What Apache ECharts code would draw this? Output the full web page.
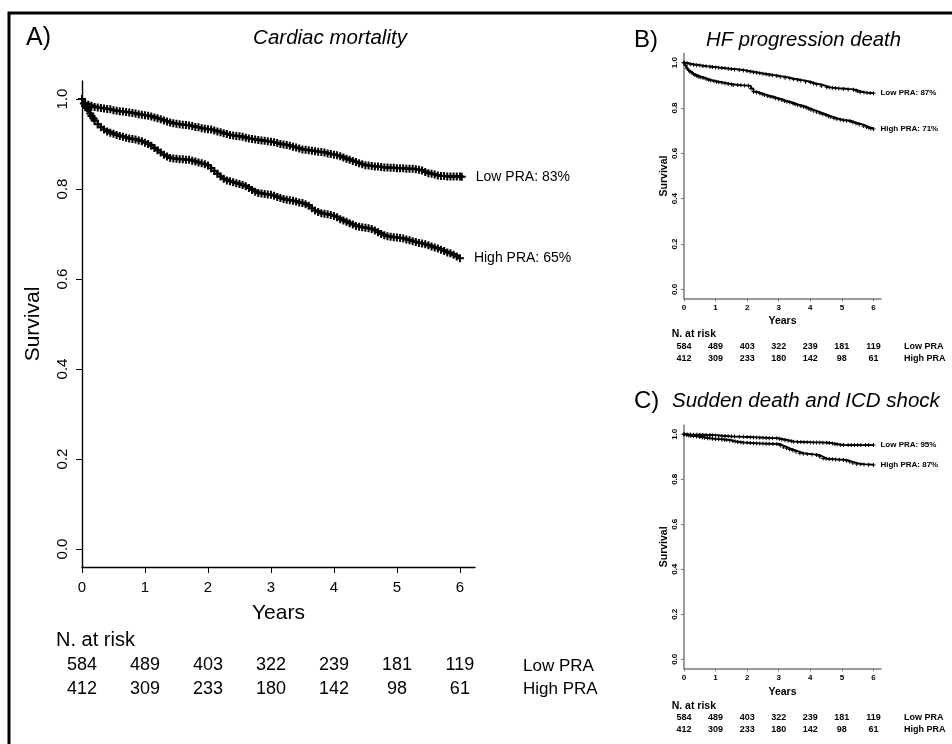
<!DOCTYPE html>
<html><head><meta charset="utf-8">
<script src="https://cdn.jsdelivr.net/npm/echarts@6/dist/echarts.min.js"></script>
<style>html,body{margin:0;padding:0;background:#fff}#c{width:952px;height:744px}</style>
</head><body><div id="c"></div><script>
// ---------- data ----------
const yearTicks = [0, 1, 2, 3, 4, 5, 6];
const survTicks = [0, 0.2, 0.4, 0.6, 0.8, 1.0];
const riskLow  = [584, 489, 403, 322, 239, 181, 119];
const riskHigh = [412, 309, 233, 180, 142, 98, 61];
const panelLetters = ['A)', 'B)', 'C)'];
const panelTitles = ['Cardiac mortality', 'HF progression death', 'Sudden death and ICD shock'];
const lowEndLabels  = ['Low PRA: 83%', 'Low PRA: 87%', 'Low PRA: 95%'];
const highEndLabels = ['High PRA: 65%', 'High PRA: 71%', 'High PRA: 87%'];
const rowNames = ['Low PRA', 'High PRA'];

// Panel A – cardiac mortality  [years, survival]
const aLow = [[0,1],[0.05,0.99],[0.1,0.987],[0.15,0.985],[0.2,0.982],[0.25,0.981],[0.3,0.98],[0.35,0.979],[0.4,0.978],[0.45,0.977],[0.5,0.975],[0.55,0.974],[0.6,0.973],[0.65,0.972],[0.7,0.971],[0.75,0.97],[0.8,0.969],[0.85,0.968],[0.9,0.966],[0.95,0.965],[1.0,0.964],[1.05,0.963],[1.1,0.961],[1.15,0.959],[1.2,0.957],[1.25,0.955],[1.3,0.952],[1.35,0.95],[1.4,0.948],[1.45,0.946],[1.5,0.945],[1.55,0.944],[1.6,0.943],[1.65,0.942],[1.7,0.941],[1.75,0.94],[1.8,0.938],[1.85,0.937],[1.9,0.935],[1.95,0.934],[2.0,0.933],[2.05,0.932],[2.1,0.93],[2.15,0.928],[2.2,0.926],[2.25,0.924],[2.3,0.922],[2.35,0.92],[2.4,0.919],[2.45,0.918],[2.5,0.917],[2.55,0.916],[2.6,0.914],[2.65,0.912],[2.7,0.911],[2.75,0.91],[2.8,0.909],[2.85,0.908],[2.9,0.907],[2.95,0.906],[3.0,0.905],[3.05,0.904],[3.1,0.902],[3.15,0.9],[3.2,0.899],[3.25,0.898],[3.3,0.896],[3.35,0.894],[3.4,0.892],[3.45,0.89],[3.5,0.888],[3.55,0.887],[3.6,0.886],[3.65,0.885],[3.7,0.884],[3.75,0.883],[3.8,0.882],[3.85,0.881],[3.9,0.879],[3.95,0.878],[4.0,0.876],[4.05,0.875],[4.1,0.873],[4.15,0.87],[4.2,0.867],[4.25,0.865],[4.3,0.862],[4.35,0.86],[4.4,0.857],[4.45,0.855],[4.5,0.853],[4.55,0.852],[4.6,0.851],[4.65,0.85],[4.7,0.85],[4.75,0.849],[4.8,0.848],[4.85,0.848],[4.9,0.847],[4.95,0.847],[5.0,0.846],[5.05,0.846],[5.1,0.846],[5.15,0.845],[5.2,0.845],[5.25,0.845],[5.3,0.844],[5.35,0.843],[5.4,0.841],[5.45,0.838],[5.5,0.835],[5.55,0.834],[5.6,0.832],[5.65,0.83],[5.7,0.829],[5.75,0.829],[5.8,0.828],[5.85,0.828],[5.9,0.828],[5.95,0.828],[6.0,0.828],[6.03,0.827]];
const aHigh = [[0,1],[0.03,0.99],[0.05,0.985],[0.08,0.98],[0.1,0.975],[0.13,0.968],[0.15,0.962],[0.18,0.957],[0.2,0.952],[0.25,0.944],[0.3,0.937],[0.35,0.932],[0.4,0.928],[0.45,0.925],[0.5,0.923],[0.55,0.92],[0.6,0.918],[0.65,0.916],[0.7,0.914],[0.75,0.912],[0.8,0.911],[0.85,0.91],[0.9,0.908],[0.95,0.906],[1.0,0.903],[1.05,0.9],[1.1,0.896],[1.15,0.891],[1.2,0.886],[1.25,0.881],[1.3,0.876],[1.35,0.872],[1.4,0.869],[1.45,0.868],[1.5,0.867],[1.55,0.866],[1.6,0.866],[1.65,0.865],[1.7,0.865],[1.75,0.863],[1.8,0.861],[1.85,0.859],[1.9,0.857],[1.95,0.855],[2.0,0.852],[2.05,0.846],[2.1,0.84],[2.15,0.834],[2.2,0.828],[2.25,0.823],[2.3,0.819],[2.35,0.817],[2.4,0.815],[2.45,0.813],[2.5,0.811],[2.55,0.809],[2.6,0.806],[2.65,0.802],[2.7,0.798],[2.75,0.794],[2.8,0.791],[2.85,0.79],[2.9,0.789],[2.95,0.788],[3.0,0.787],[3.05,0.785],[3.1,0.782],[3.15,0.78],[3.2,0.778],[3.25,0.776],[3.3,0.775],[3.35,0.774],[3.4,0.772],[3.45,0.77],[3.5,0.769],[3.55,0.766],[3.6,0.763],[3.65,0.757],[3.7,0.752],[3.75,0.749],[3.8,0.746],[3.85,0.745],[3.9,0.744],[3.95,0.742],[4.0,0.74],[4.05,0.737],[4.1,0.733],[4.15,0.73],[4.2,0.727],[4.25,0.724],[4.3,0.721],[4.35,0.718],[4.4,0.716],[4.45,0.715],[4.5,0.714],[4.55,0.713],[4.6,0.711],[4.65,0.708],[4.7,0.704],[4.75,0.7],[4.8,0.697],[4.85,0.695],[4.9,0.694],[4.95,0.693],[5.0,0.692],[5.05,0.691],[5.1,0.69],[5.15,0.688],[5.2,0.686],[5.25,0.684],[5.3,0.682],[5.35,0.68],[5.4,0.679],[5.45,0.677],[5.5,0.675],[5.55,0.672],[5.6,0.67],[5.65,0.668],[5.7,0.665],[5.75,0.662],[5.8,0.659],[5.85,0.657],[5.9,0.654],[5.95,0.65],[6.0,0.646]];

// Panel B – HF progression death
const bLow = [[0,1],[0.1,0.996],[0.2,0.993],[0.3,0.991],[0.4,0.989],[0.5,0.987],[0.6,0.985],[0.7,0.984],[0.82,0.982],[0.9,0.981],[1.0,0.979],[1.1,0.978],[1.2,0.976],[1.3,0.975],[1.4,0.973],[1.5,0.972],[1.6,0.97],[1.75,0.968],[1.88,0.965],[2.0,0.963],[2.1,0.96],[2.2,0.958],[2.3,0.955],[2.4,0.953],[2.5,0.951],[2.6,0.949],[2.7,0.946],[2.8,0.944],[2.94,0.941],[3.05,0.938],[3.2,0.934],[3.35,0.93],[3.47,0.927],[3.6,0.924],[3.7,0.921],[3.85,0.916],[4.0,0.912],[4.1,0.908],[4.2,0.904],[4.35,0.897],[4.52,0.892],[4.6,0.89],[4.7,0.889],[4.8,0.887],[4.9,0.886],[5.05,0.884],[5.2,0.882],[5.37,0.88],[5.45,0.877],[5.5,0.874],[5.58,0.87],[5.7,0.868],[5.8,0.867],[5.9,0.866],[6.0,0.865]];
const bHigh = [[0,1],[0.05,0.988],[0.1,0.975],[0.15,0.966],[0.19,0.96],[0.25,0.955],[0.3,0.95],[0.35,0.946],[0.4,0.942],[0.45,0.939],[0.51,0.936],[0.6,0.932],[0.7,0.928],[0.78,0.924],[0.85,0.921],[0.95,0.918],[1.03,0.916],[1.1,0.914],[1.2,0.911],[1.3,0.909],[1.4,0.906],[1.5,0.904],[1.56,0.902],[1.7,0.901],[1.8,0.9],[1.92,0.899],[2.04,0.898],[2.12,0.886],[2.2,0.872],[2.3,0.868],[2.4,0.865],[2.48,0.861],[2.55,0.857],[2.65,0.853],[2.73,0.85],[2.82,0.847],[2.9,0.843],[3.0,0.839],[3.1,0.835],[3.18,0.831],[3.26,0.828],[3.35,0.824],[3.45,0.82],[3.52,0.816],[3.6,0.813],[3.7,0.809],[3.78,0.806],[3.87,0.801],[3.95,0.797],[4.02,0.792],[4.1,0.788],[4.2,0.782],[4.31,0.777],[4.4,0.772],[4.5,0.768],[4.58,0.764],[4.65,0.76],[4.75,0.755],[4.84,0.751],[4.95,0.748],[5.05,0.746],[5.15,0.744],[5.26,0.741],[5.35,0.736],[5.45,0.732],[5.55,0.727],[5.68,0.721],[5.78,0.716],[5.85,0.713],[5.92,0.71],[6.0,0.707]];

// Panel C – sudden death and ICD shock
const cLow = [[0,1],[0.1,0.999],[0.2,0.999],[0.3,0.998],[0.4,0.998],[0.5,0.998],[0.6,0.997],[0.7,0.997],[0.82,0.997],[0.9,0.996],[1.0,0.995],[1.1,0.994],[1.2,0.993],[1.3,0.992],[1.4,0.991],[1.5,0.99],[1.6,0.99],[1.75,0.989],[1.88,0.989],[2.0,0.988],[2.1,0.987],[2.2,0.986],[2.3,0.986],[2.4,0.985],[2.5,0.985],[2.6,0.984],[2.7,0.983],[2.8,0.983],[2.94,0.982],[3.02,0.98],[3.1,0.977],[3.2,0.974],[3.3,0.971],[3.4,0.969],[3.47,0.967],[3.6,0.966],[3.7,0.966],[3.8,0.965],[3.9,0.965],[4.0,0.964],[4.1,0.964],[4.2,0.964],[4.3,0.964],[4.4,0.963],[4.52,0.963],[4.6,0.961],[4.7,0.959],[4.78,0.957],[4.85,0.955],[4.95,0.953],[5.05,0.952],[5.2,0.952],[5.3,0.952],[5.4,0.952],[5.5,0.952],[5.6,0.952],[5.75,0.952],[5.85,0.952],[6.0,0.952]];
const cHigh = [[0,1],[0.08,0.997],[0.15,0.995],[0.22,0.993],[0.3,0.992],[0.4,0.99],[0.5,0.988],[0.58,0.986],[0.65,0.985],[0.75,0.983],[0.82,0.982],[0.9,0.98],[1.0,0.979],[1.1,0.978],[1.2,0.977],[1.28,0.976],[1.35,0.975],[1.45,0.972],[1.55,0.97],[1.62,0.968],[1.7,0.966],[1.8,0.964],[1.88,0.963],[2.0,0.962],[2.1,0.961],[2.2,0.96],[2.3,0.96],[2.4,0.959],[2.5,0.959],[2.6,0.958],[2.7,0.958],[2.82,0.957],[2.94,0.957],[3.05,0.95],[3.15,0.944],[3.25,0.938],[3.35,0.933],[3.45,0.928],[3.55,0.922],[3.67,0.916],[3.78,0.914],[3.9,0.912],[4.05,0.91],[4.2,0.908],[4.3,0.9],[4.41,0.893],[4.5,0.891],[4.6,0.89],[4.7,0.889],[4.8,0.888],[4.92,0.887],[5.05,0.886],[5.15,0.882],[5.25,0.878],[5.35,0.873],[5.47,0.868],[5.6,0.867],[5.7,0.866],[5.85,0.865],[6.0,0.864]];

const seriesData = [[aLow, aHigh], [bLow, bHigh], [cLow, cHigh]];

// ---------- layout / style ----------
const FONT = '"Liberation Sans", Arial, Helvetica, sans-serif';
const grids = [
  {left: 82, top: 81, width: 393, height: 486},
  {left: 684, top: 53.6, width: 197, height: 244.8},
  {left: 684, top: 425.3, width: 197, height: 243}
];
const big = {axisColor: '#000', axisW: 1.4, tickLen: 6, tickFont: 15, tickW: 'normal', xMargin: 13, yMargin: 11.5,
  nameFont: 21, nameW: 'normal', yNameGap: 38.5, rowFont: 18, rowW: 'normal', endFont: 14, endW: 'normal', endDist: 14,
  lineW: 2, sym: 'path://M3,0H5V3H8V5H5V8H3V5H0V3H3Z', symSize: 8};
const small = {axisColor: '#7a7a7a', axisW: 1.5, tickLen: 3, tickFont: 8, tickW: 'bold', xMargin: 5.5, yMargin: 5,
  nameFont: 10.5, nameW: 'bold', yNameGap: 11, rowFont: 9, rowW: 'bold', endFont: 8, endW: 'bold', endDist: 7,
  lineW: 1.8, sym: 'path://M3,0H5V3H8V5H5V8H3V5H0V3H3Z', symSize: 4};
const panelCfg = [
  Object.assign({}, big, {xNameGap: 36, rowOffsets: [88.6, 112.6]}),
  Object.assign({}, small, {xNameGap: 17, rowOffsets: [43.8, 56.1]}),
  Object.assign({}, small, {xNameGap: 18.5, rowOffsets: [44.9, 57.2]})
];

const xAxes = [], yAxes = [], series = [];
grids.forEach((g, i) => {
  const c = panelCfg[i];
  xAxes.push({
    type: 'value', gridIndex: i, min: 0, max: 6.24, position: 'bottom',
    name: 'Years', nameLocation: 'middle', nameGap: c.xNameGap,
    nameTextStyle: {fontFamily: FONT, fontSize: c.nameFont, fontWeight: c.nameW, color: '#000'},
    axisLine: {show: true, onZero: false, lineStyle: {color: c.axisColor, width: c.axisW}},
    axisTick: {show: true, length: c.tickLen, customValues: yearTicks, lineStyle: {color: c.axisColor, width: 1}},
    axisLabel: {customValues: yearTicks, margin: c.xMargin, fontFamily: FONT, fontSize: c.tickFont, fontWeight: c.tickW, color: '#000',
      formatter: v => String(Math.round(v))},
    splitLine: {show: false}
  });
  [riskLow, riskHigh].forEach((risk, r) => {
    xAxes.push({
      type: 'value', gridIndex: i, min: 0, max: 6.24, position: 'bottom', offset: c.rowOffsets[r],
      axisLine: {show: false, onZero: false}, axisTick: {show: false}, splitLine: {show: false},
      axisLabel: {customValues: yearTicks, margin: 0, fontFamily: FONT, fontSize: c.rowFont, fontWeight: c.rowW, color: '#000',
        formatter: v => String(risk[Math.round(v)])}
    });
  });
  yAxes.push({
    type: 'value', gridIndex: i, min: -0.04, max: 1.04, position: 'left',
    name: 'Survival', nameLocation: 'middle', nameGap: c.yNameGap,
    nameTextStyle: {fontFamily: FONT, fontSize: c.nameFont, fontWeight: c.nameW, color: '#000'},
    axisLine: {show: true, onZero: false, lineStyle: {color: c.axisColor, width: c.axisW}},
    axisTick: {show: true, length: c.tickLen, customValues: survTicks, lineStyle: {color: c.axisColor, width: 1}},
    axisLabel: {customValues: survTicks, rotate: 90, margin: c.yMargin, fontFamily: FONT, fontSize: c.tickFont, fontWeight: c.tickW, color: '#000',
      formatter: v => v.toFixed(1)},
    splitLine: {show: false}
  });
  const xIdx = i * 3;
  seriesData[i].forEach((d, k) => {
    series.push({
      type: 'line', xAxisIndex: xIdx, yAxisIndex: i, data: d, step: 'end',
      showSymbol: true, showAllSymbol: true, symbol: c.sym, symbolSize: c.symSize, clip: false,
      lineStyle: {color: '#000', width: c.lineW}, itemStyle: {color: '#000'},
      emphasis: {disabled: true}, silent: true,
      endLabel: {show: true, formatter: k === 0 ? lowEndLabels[i] : highEndLabels[i], distance: c.endDist,
        fontFamily: FONT, fontSize: c.endFont, fontWeight: c.endW, color: '#000'}
    });
  });
});

function txt(x, y, s, size, opts) {
  return {
    type: 'text', x: x, y: y, silent: true,
    style: {text: s, fill: '#000', font: (opts && opts.fontStyle || '') + ' ' + (opts && opts.fontWeight || 'normal') + ' ' + size + 'px ' + FONT,
      align: opts && opts.align || 'left', verticalAlign: 'middle', textAlign: opts && opts.align || 'left', textVerticalAlign: 'middle'}
  };
}

const graphic = [
  {type: 'rect', shape: {x: 9, y: 13, width: 1000, height: 800}, style: {fill: 'none', stroke: '#000', lineWidth: 3}, silent: true, z: -1},
  txt(26, 38, panelLetters[0], 25),
  txt(330, 38, panelTitles[0], 20.5, {fontStyle: 'italic', align: 'center'}),
  txt(634, 40, panelLetters[1], 24),
  txt(706, 40, panelTitles[1], 20.3, {fontStyle: 'italic'}),
  txt(634, 401, panelLetters[2], 24),
  txt(672, 401, panelTitles[2], 20.5, {fontStyle: 'italic'}),
  txt(56, 640, 'N. at risk', 20),
  txt(671.7, 334.3, 'N. at risk', 10.5, {fontWeight: 'bold'}),
  txt(671.7, 705.7, 'N. at risk', 10.5, {fontWeight: 'bold'}),
  txt(523, 666, rowNames[0], 17),
  txt(523, 689, rowNames[1], 17),
  txt(904, 346.7, rowNames[0], 9, {fontWeight: 'bold'}),
  txt(904, 359, rowNames[1], 9, {fontWeight: 'bold'}),
  txt(904, 717.7, rowNames[0], 9, {fontWeight: 'bold'}),
  txt(904, 730, rowNames[1], 9, {fontWeight: 'bold'})
];

const chart = echarts.init(document.getElementById('c'), null, {renderer: 'canvas'});
chart.setOption({
  animation: false,
  backgroundColor: '#fff',
  grid: grids.map(g => Object.assign({containLabel: false, outerBoundsMode: 'none'}, g)),
  xAxis: xAxes,
  yAxis: yAxes,
  series: series,
  graphic: graphic
});
</script></body></html>
